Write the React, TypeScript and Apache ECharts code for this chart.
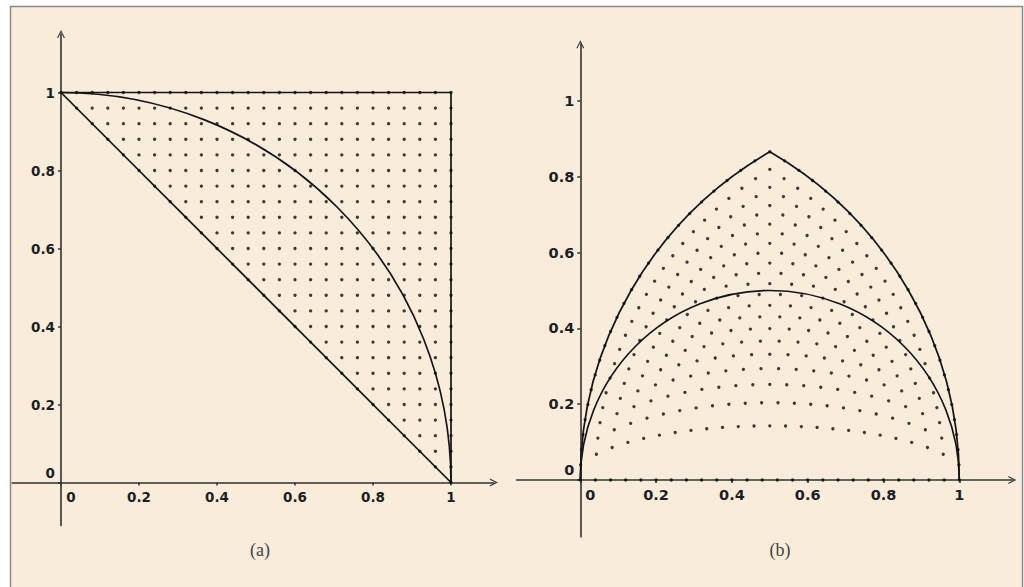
import React, { useEffect, useRef } from "react";
import * as echarts from "echarts";

// Lattice of sample points (a = x, b = y) used in panel (a); step 0.04
const latticeValues = [
  0, 0.04, 0.08, 0.12, 0.16, 0.2, 0.24, 0.28, 0.32, 0.36, 0.4, 0.44, 0.48,
  0.52, 0.56, 0.6, 0.64, 0.68, 0.72, 0.76, 0.8, 0.84, 0.88, 0.92, 0.96, 1,
];

// Tick values / labels
const tickValues = [0, 0.2, 0.4, 0.6, 0.8, 1];

// Panel (a) boundary segments
const squareEdges = [
  [0, 1],
  [1, 1],
  [1, 0],
];
const diagonalA = [
  [0, 1],
  [1, 0],
];
// arcs: [centerX, centerY, radius, startDeg, endDeg]
const arcsA = [[0, 0, 1, 0, 90]];

// Panel (b) boundary arcs
const arcsB = [
  [1, 0, 1, 120, 180],
  [0, 0, 1, 0, 60],
  [0.5, 0, 0.5, 0, 180],
];

// Axis ranges
const rangeAX = [-0.125, 1.11];
const rangeAY = [-0.11, 1.15];
const rangeBX = [-0.168, 1.14];
const rangeBY = [-0.15, 1.15];

const captions = ["(a)", "(b)"];

const INK = "#151515";
const AXIS = "#333333";
const BG = "#f9ecdb";

function buildDots() {
  const a: number[][] = [];
  const b: number[][] = [];
  for (const x of latticeValues) {
    for (const y of latticeValues) {
      if (x + y >= 1 - 1e-9) {
        a.push([x, y]);
        const px = (x * x - y * y + 1) / 2;
        const py = Math.sqrt(Math.max(0, x * x - px * px));
        b.push([px, py]);
      }
    }
  }
  return { a, b };
}

const chevron = "path://M0,10 L5,0 L10,10 L8.5,10 L5,2.9 L1.5,10 Z";

function labelFont(size: number) {
  return {
    color: "#1e1e1e",
    fontFamily: "DejaVu Sans",
    fontWeight: "bold",
    fontSize: size,
  };
}

function makeAxis(
  dim: "x" | "y",
  gridIndex: number,
  range: number[],
  otherRange: number[],
  scale: number,
  fontSize: number
) {
  return {
    type: "value",
    gridIndex,
    min: range[0],
    max: range[1],
    position: dim === "x" ? "bottom" : "left",
    offset: otherRange[0] * scale,
    splitLine: { show: false },
    axisLine: {
      onZero: false,
      symbol: ["none", chevron],
      symbolSize: [9, 8],
      lineStyle: { color: AXIS, width: 1.6 },
    },
    axisTick: {
      show: true,
      customValues: tickValues,
      length: 3,
      lineStyle: { color: AXIS, width: 1.5 },
    },
    axisLabel: {
      customValues: tickValues,
      formatter: (v: number) => (v === 0 ? "{z|0}" : String(v)),
      ...labelFont(fontSize),
      margin: dim === "x" ? 7 : 6,
      rich: {
        z: {
          padding: dim === "x" ? [0, 0, 0, 20] : [0, 0, 20, 0],
          ...labelFont(fontSize),
        },
      },
    },
  };
}

function arcSeries(data: number[][], idx: number) {
  return {
    type: "custom",
    xAxisIndex: idx,
    yAxisIndex: idx,
    silent: true,
    z: 4,
    data,
    renderItem: (params: any, api: any) => {
      const c = api.coord([api.value(0), api.value(1)]);
      const r = api.size([api.value(2), 0])[0];
      return {
        type: "arc",
        shape: {
          cx: c[0],
          cy: c[1],
          r,
          startAngle: (-api.value(4) * Math.PI) / 180,
          endAngle: (-api.value(3) * Math.PI) / 180,
          clockwise: true,
        },
        style: { stroke: INK, fill: "none", lineWidth: 1.7 },
      };
    },
  };
}

function lineSeries(data: number[][], idx: number) {
  return {
    type: "line",
    xAxisIndex: idx,
    yAxisIndex: idx,
    data,
    symbol: "none",
    silent: true,
    z: 4,
    lineStyle: { color: INK, width: 1.7 },
  };
}

function dotSeries(data: number[][], idx: number) {
  return {
    type: "scatter",
    xAxisIndex: idx,
    yAxisIndex: idx,
    data,
    symbolSize: 3.3,
    silent: true,
    z: 5,
    itemStyle: { color: "#0d0d0d" },
  };
}

export default function App() {
  const ref = useRef<HTMLDivElement>(null);
  useEffect(() => {
    if (!ref.current) return;
    const chart = echarts.init(ref.current, undefined, { renderer: "svg" });
    const dots = buildDots();
    const scaleA = 390;
    const scaleB = 379;
    const captionStyle = (text: string) => ({
      text,
      textAlign: "center",
      textVerticalAlign: "middle",
      font: '18px "Liberation Serif"',
      fill: "#444",
    });
    const option: any = {
      animation: false,
      backgroundColor: "#ffffff",
      graphic: [
        {
          type: "rect",
          z: -100,
          silent: true,
          shape: { x: 10.5, y: 6.5, width: 1012, height: 620 },
          style: { fill: BG, stroke: "#8c8c8c", lineWidth: 1.5 },
        },
        { type: "text", z: 10, x: 260, y: 550, style: captionStyle(captions[0]) },
        { type: "text", z: 10, x: 780, y: 550, style: captionStyle(captions[1]) },
      ],
      grid: [
        {
          left: 61 + rangeAX[0] * scaleA,
          width: (rangeAX[1] - rangeAX[0]) * scaleA,
          top: 482.5 - rangeAY[1] * scaleA,
          height: (rangeAY[1] - rangeAY[0]) * scaleA,
          containLabel: false,
          outerBoundsMode: "none",
        },
        {
          left: 580.3 + rangeBX[0] * scaleB,
          width: (rangeBX[1] - rangeBX[0]) * scaleB,
          top: 480 - rangeBY[1] * scaleB,
          height: (rangeBY[1] - rangeBY[0]) * scaleB,
          containLabel: false,
          outerBoundsMode: "none",
        },
      ],
      xAxis: [
        makeAxis("x", 0, rangeAX, rangeAY, scaleA, 13.5),
        makeAxis("x", 1, rangeBX, rangeBY, scaleB, 14.5),
      ],
      yAxis: [
        makeAxis("y", 0, rangeAY, rangeAX, scaleA, 13.5),
        makeAxis("y", 1, rangeBY, rangeBX, scaleB, 14.5),
      ],
      series: [
        dotSeries(dots.a, 0),
        lineSeries(squareEdges, 0),
        lineSeries(diagonalA, 0),
        arcSeries(arcsA, 0),
        dotSeries(dots.b, 1),
        arcSeries(arcsB, 1),
      ],
    };
    chart.setOption(option);
    return () => chart.dispose();
  }, []);
  return (
    <div
      ref={ref}
      style={{ position: "fixed", left: 0, top: 0, width: 1024, height: 587 }}
    />
  );
}
